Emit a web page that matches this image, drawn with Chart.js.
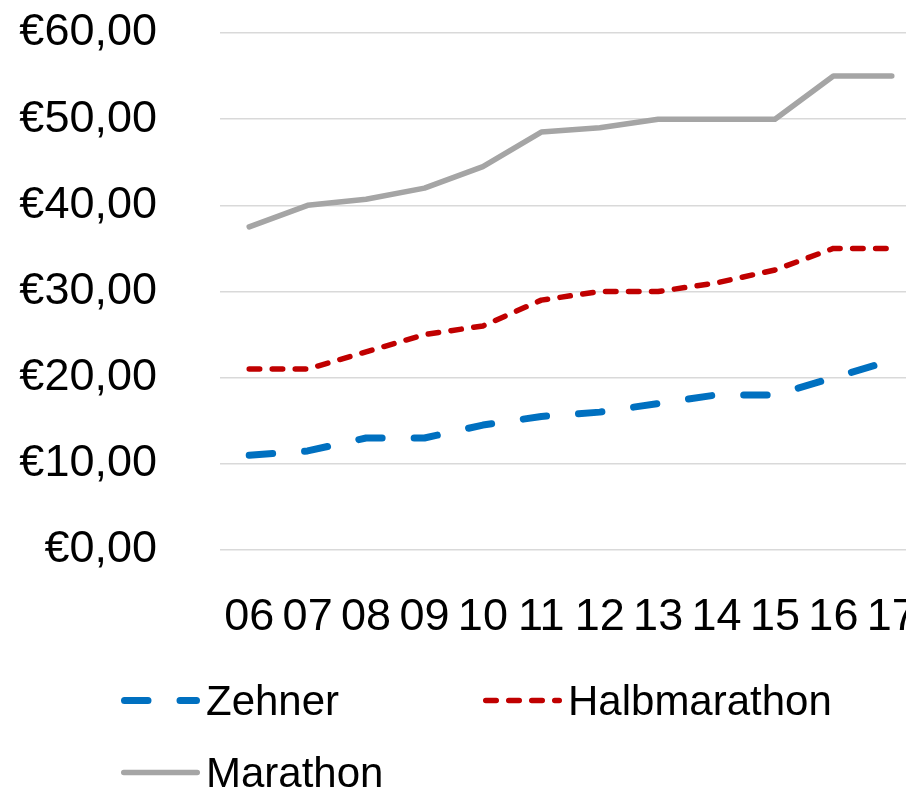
<!DOCTYPE html>
<html>
<head>
<meta charset="utf-8">
<script src="https://cdn.jsdelivr.net/npm/chart.js@4/dist/chart.umd.min.js"></script>
<style>
  html, body { margin: 0; padding: 0; background: #fff; width: 906px; height: 790px; overflow: hidden; }
  #wrap { position: relative; width: 921px; height: 790px; }
</style>
</head>
<body>
<div id="wrap"><canvas id="c"></canvas></div>
<script>
// ---- data ----
const categories = ['06', '07', '08', '09', '10', '11', '12', '13', '14', '15', '16', '17'];
const zehner = [11, 11.5, 13, 13, 14.5, 15.5, 16, 17, 18, 18, 20, 22];
const halbmarathon = [21, 21, 23, 25, 26, 29, 30, 30, 31, 32.5, 35, 35];
const marathon = [37.5, 40, 40.7, 42, 44.5, 48.5, 49, 50, 50, 50, 55, 55];
const seriesNames = ['Zehner', 'Halbmarathon', 'Marathon'];
const yTickValues = [0, 10, 20, 30, 40, 50, 60];
const yTickLabels = ['€0,00', '€10,00', '€20,00', '€30,00', '€40,00', '€50,00', '€60,00'];

// ---- styling / layout ----
const FONT = "'Liberation Sans', Arial, sans-serif";
const legendLayout = {
  items: [{ x: 121, y: 700.5 }, { x: 483, y: 700.5 }, { x: 121, y: 772.5 }],
  lineLength: 79,
  gap: 6,
  baselineOffset: 14,
  font: "42px 'Liberation Sans', Arial, sans-serif"
};

const legendPlugin = {
  id: 'customLegend',
  afterDraw(chart) {
    const ctx = chart.ctx;
    ctx.save();
    chart.data.datasets.forEach((ds, i) => {
      const it = legendLayout.items[i];
      const hw = ds.borderWidth / 2;
      ctx.beginPath();
      ctx.lineWidth = ds.borderWidth;
      ctx.strokeStyle = ds.borderColor;
      ctx.setLineDash(ds.borderDash || []);
      ctx.lineDashOffset = 0;
      ctx.lineCap = 'round';
      ctx.moveTo(it.x + hw, it.y);
      ctx.lineTo(it.x + legendLayout.lineLength - hw, it.y);
      ctx.stroke();
      ctx.setLineDash([]);
      ctx.fillStyle = '#000';
      ctx.font = legendLayout.font;
      ctx.textBaseline = 'alphabetic';
      ctx.textAlign = 'left';
      ctx.fillText(ds.label, it.x + legendLayout.lineLength + legendLayout.gap, it.y + legendLayout.baselineOffset);
    });
    ctx.restore();
  }
};

new Chart(document.getElementById('c'), {
  type: 'line',
  data: {
    labels: categories,
    datasets: [
      {
        label: seriesNames[0], data: zehner,
        borderColor: '#0070C0', backgroundColor: '#0070C0',
        borderWidth: 7, borderDash: [23.5, 32],
        borderCapStyle: 'round', borderJoinStyle: 'round',
        pointRadius: 0, pointHoverRadius: 0, tension: 0, fill: false
      },
      {
        label: seriesNames[1], data: halbmarathon,
        borderColor: '#C00000', backgroundColor: '#C00000',
        borderWidth: 5.5, borderDash: [10.5, 12.5],
        borderCapStyle: 'round', borderJoinStyle: 'round',
        pointRadius: 0, pointHoverRadius: 0, tension: 0, fill: false
      },
      {
        label: seriesNames[2], data: marathon,
        borderColor: '#A5A5A5', backgroundColor: '#A5A5A5',
        borderWidth: 5.5, borderDash: [],
        borderCapStyle: 'round', borderJoinStyle: 'round',
        pointRadius: 0, pointHoverRadius: 0, tension: 0, fill: false
      }
    ]
  },
  options: {
    responsive: true,
    maintainAspectRatio: false,
    animation: false,
    layout: { padding: { top: 33, left: 0, right: 0, bottom: 0 } },
    plugins: {
      legend: { display: false },
      tooltip: { enabled: false }
    },
    scales: {
      x: {
        offset: true,
        grid: { display: false, drawTicks: false },
        border: { display: false },
        ticks: {
          font: { family: FONT, size: 45 },
          color: '#000',
          padding: 41,
          autoSkip: false,
          maxRotation: 0,
          minRotation: 0
        },
        afterFit(scale) {
          scale.height = 240;
          scale.paddingLeft = 0;
          scale.paddingRight = 0;
        }
      },
      y: {
        min: yTickValues[0],
        max: yTickValues[yTickValues.length - 1],
        afterBuildTicks(scale) { scale.ticks = yTickValues.map(v => ({ value: v })); },
        grid: { color: '#D9D9D9', lineWidth: 1.5, drawTicks: false },
        border: { display: false },
        ticks: {
          font: { family: FONT, size: 45 },
          color: '#000',
          padding: 63,
          callback: (v) => yTickLabels[yTickValues.indexOf(v)]
        },
        afterFit(scale) {
          scale.width = 220;
          scale.paddingTop = 0;
          scale.paddingBottom = 0;
        }
      }
    }
  },
  plugins: [legendPlugin]
});
</script>
</body>
</html>
